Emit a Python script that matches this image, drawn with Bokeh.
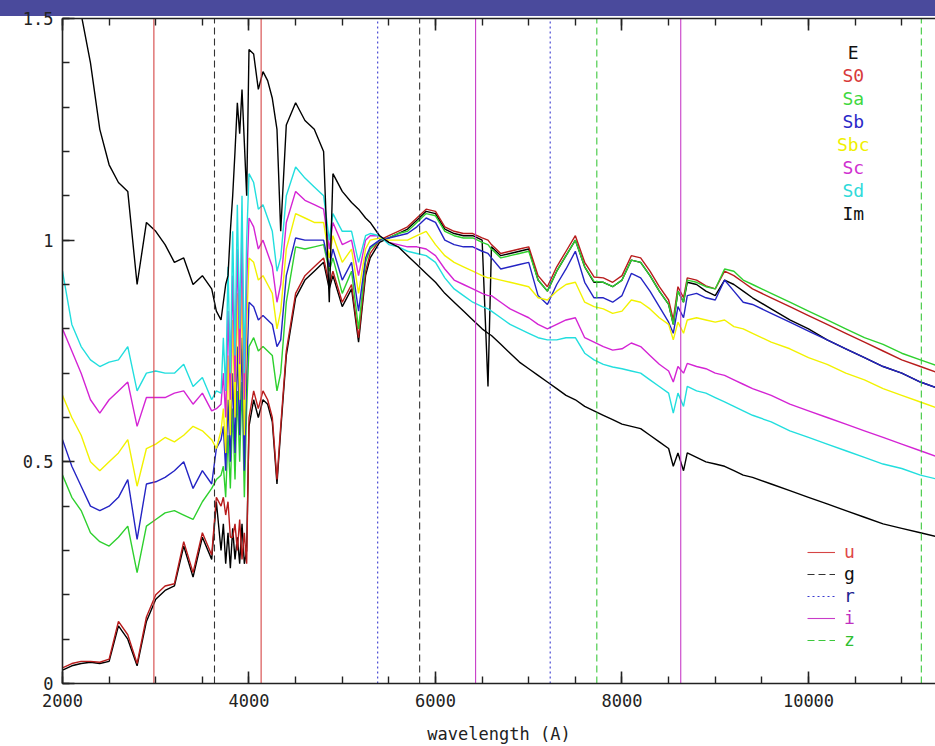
from bokeh.plotting import figure
from bokeh.models import (ColumnDataSource, LinearAxis, SingleIntervalTicker, Div,
                          CustomJSTickFormatter, Legend, LegendItem, Label, Range1d)
from bokeh.layouts import column
from bokeh.embed import file_html
from bokeh.resources import INLINE

# wavelength grid in Angstrom (denser through the 4000 A break)
wavelength = [
    2000, 2100, 2200, 2300, 2400, 2500, 2600, 2700, 2800, 2900, 3000, 3100, 3200, 3300, 3400, 3500, 3600,
    3650, 3700, 3725, 3750, 3775, 3800, 3825, 3850, 3875, 3900, 3925, 3950, 3975, 4000, 4050, 4100,
    4150, 4200, 4250, 4300, 4340, 4400,
    4500, 4600, 4700, 4800, 4861, 4900, 5000, 5100, 5175, 5250, 5300, 5400, 5500,
    5600, 5700, 5800, 5900, 6000, 6100, 6200, 6300, 6400, 6500, 6563, 6600, 6700, 6800, 6900, 7000,
    7100, 7200, 7300, 7400, 7500, 7600, 7700, 7800, 7900, 8000, 8100, 8200, 8300, 8400, 8500, 8550,
    8600, 8660, 8700, 8800, 8900, 9000, 9100, 9200, 9300,
    9400, 9600, 9800, 10000, 10200, 10400, 10600, 10800, 11000, 11200, 11400,
]

flux_E = [
    0.03, 0.04, 0.045, 0.048, 0.045, 0.05, 0.13, 0.10, 0.04, 0.14, 0.19, 0.21, 0.22, 0.31, 0.24, 0.33, 0.28,
    0.41, 0.30, 0.36, 0.27, 0.34, 0.26, 0.35, 0.28, 0.33, 0.27, 0.36, 0.27, 0.30, 0.58, 0.64, 0.60,
    0.64, 0.63, 0.59, 0.45, 0.57, 0.74,
    0.87, 0.91, 0.93, 0.95, 0.89, 0.92, 0.85, 0.89, 0.77, 0.92, 0.96, 0.995, 1.005,
    1.015, 1.025, 1.045, 1.065, 1.06, 1.025, 1.015, 1.01, 1.01, 1.0, 0.67, 0.985, 0.965, 0.97, 0.975, 0.98,
    0.91, 0.885, 0.93, 0.965, 1.0, 0.94, 0.905, 0.905, 0.895, 0.91, 0.955, 0.95, 0.92, 0.885, 0.855, 0.81,
    0.885, 0.86, 0.905, 0.90, 0.885, 0.875, 0.91, 0.90, 0.885,
    0.87, 0.845, 0.82, 0.80, 0.775, 0.755, 0.735, 0.715, 0.70, 0.68, 0.665,
]

flux_S0 = [
    0.035, 0.045, 0.05, 0.05, 0.048, 0.055, 0.14, 0.11, 0.045, 0.15, 0.20, 0.22, 0.225, 0.32, 0.25, 0.34, 0.29,
    0.42, 0.40, 0.42, 0.38, 0.41, 0.33, 0.33, 0.36, 0.30, 0.37, 0.28, 0.34, 0.27, 0.60, 0.66, 0.62,
    0.66, 0.64, 0.60, 0.46, 0.58, 0.75,
    0.88, 0.92, 0.94, 0.96, 0.90, 0.93, 0.86, 0.90, 0.78, 0.93, 0.97, 1.00, 1.01,
    1.02, 1.03, 1.05, 1.07, 1.065, 1.03, 1.02, 1.015, 1.015, 1.005, 1.0, 0.99, 0.97, 0.975, 0.98, 0.985,
    0.92, 0.895, 0.94, 0.975, 1.01, 0.95, 0.917, 0.915, 0.905, 0.92, 0.965, 0.96, 0.93, 0.895, 0.865, 0.82,
    0.895, 0.87, 0.915, 0.91, 0.897, 0.89, 0.93, 0.92, 0.905,
    0.89, 0.87, 0.85, 0.83, 0.81, 0.79, 0.77, 0.75, 0.73, 0.715, 0.70,
]

flux_Sa = [
    0.47, 0.42, 0.39, 0.34, 0.32, 0.31, 0.33, 0.355, 0.25, 0.355, 0.37, 0.385, 0.39, 0.38, 0.37, 0.41, 0.44,
    0.46, 0.47, 0.49, 0.42, 0.56, 0.44, 0.62, 0.46, 0.66, 0.50, 0.68, 0.42, 0.62, 0.76, 0.78, 0.75,
    0.76, 0.75, 0.74, 0.66, 0.70, 0.86,
    0.985, 0.98, 0.985, 0.99, 0.93, 0.96, 0.88, 0.93, 0.80, 0.95, 0.98, 1.0, 1.005,
    1.015, 1.02, 1.04, 1.06, 1.055, 1.02, 1.01, 1.005, 1.005, 0.995, 0.99, 0.98, 0.96, 0.965, 0.97, 0.975,
    0.91, 0.885, 0.93, 0.965, 1.0, 0.94, 0.907, 0.905, 0.895, 0.91, 0.955, 0.95, 0.92, 0.885, 0.855, 0.81,
    0.885, 0.86, 0.91, 0.905, 0.895, 0.89, 0.935, 0.93, 0.91,
    0.90, 0.88, 0.86, 0.84, 0.82, 0.80, 0.78, 0.765, 0.745, 0.73, 0.715,
]

flux_Sb = [
    0.55, 0.49, 0.445, 0.40, 0.39, 0.40, 0.42, 0.46, 0.325, 0.45, 0.455, 0.465, 0.48, 0.50, 0.44, 0.48, 0.45,
    0.53, 0.55, 0.58, 0.48, 0.64, 0.50, 0.70, 0.52, 0.76, 0.56, 0.78, 0.48, 0.70, 0.86, 0.85, 0.82,
    0.83, 0.82, 0.81, 0.76, 0.775, 0.92,
    1.005, 1.0, 1.0, 1.0, 0.94, 0.98, 0.91, 0.95, 0.84, 0.96, 0.985, 1.0, 1.005,
    1.01, 1.015, 1.03, 1.05, 1.04, 1.0, 0.99, 0.985, 0.985, 0.975, 0.97, 0.96, 0.935, 0.94, 0.945, 0.95,
    0.875, 0.855, 0.90, 0.935, 0.975, 0.905, 0.87, 0.87, 0.86, 0.875, 0.925, 0.915, 0.885, 0.85, 0.815, 0.79,
    0.85, 0.825, 0.875, 0.88, 0.87, 0.865, 0.91, 0.885, 0.86,
    0.855, 0.835, 0.815, 0.795, 0.775, 0.755, 0.735, 0.715, 0.70, 0.68, 0.665,
]

flux_Sbc = [
    0.65, 0.60, 0.56, 0.50, 0.48, 0.50, 0.52, 0.55, 0.445, 0.53, 0.54, 0.555, 0.545, 0.56, 0.58, 0.57, 0.55,
    0.53, 0.57, 0.62, 0.52, 0.74, 0.56, 0.82, 0.60, 0.88, 0.64, 0.90, 0.56, 0.80, 0.96, 0.95, 0.91,
    0.92, 0.90, 0.88, 0.80, 0.84, 0.98,
    1.06, 1.05, 1.04, 1.04, 0.96, 1.01, 0.95, 0.98, 0.88, 0.98, 1.0, 1.005, 1.0,
    1.0, 1.0, 1.01, 1.02, 0.99, 0.965, 0.95, 0.94, 0.93, 0.92, 0.915, 0.915, 0.91, 0.905, 0.90, 0.895,
    0.87, 0.865, 0.885, 0.90, 0.905, 0.86, 0.85, 0.845, 0.835, 0.84, 0.865, 0.86, 0.845, 0.825, 0.81, 0.775,
    0.815, 0.79, 0.82, 0.825, 0.82, 0.815, 0.82, 0.805, 0.80,
    0.79, 0.77, 0.755, 0.735, 0.72, 0.70, 0.685, 0.665, 0.65, 0.635, 0.62,
]

flux_Sc = [
    0.80, 0.75, 0.70, 0.64, 0.61, 0.64, 0.66, 0.68, 0.58, 0.645, 0.645, 0.645, 0.655, 0.66, 0.63, 0.655, 0.615,
    0.62, 0.63, 0.70, 0.60, 0.84, 0.64, 0.92, 0.68, 0.98, 0.72, 1.00, 0.64, 0.90, 1.05, 1.03, 0.98,
    1.0, 0.97, 0.94, 0.86, 0.90, 1.04,
    1.11, 1.09, 1.08, 1.07, 0.98, 1.04, 0.99, 1.0, 0.92, 1.0, 1.01, 1.01, 0.995,
    0.99, 0.985, 0.985, 0.98, 0.965, 0.935, 0.91, 0.90, 0.89, 0.88, 0.875, 0.875, 0.86, 0.845, 0.835, 0.825,
    0.81, 0.80, 0.81, 0.82, 0.825, 0.78, 0.77, 0.76, 0.752, 0.755, 0.768, 0.76, 0.74, 0.72, 0.705, 0.68,
    0.715, 0.70, 0.722, 0.715, 0.71, 0.70, 0.695, 0.685, 0.675,
    0.665, 0.65, 0.63, 0.615, 0.60, 0.585, 0.57, 0.555, 0.54, 0.525, 0.51,
]

flux_Sd = [
    0.93, 0.81, 0.76, 0.73, 0.715, 0.725, 0.73, 0.76, 0.66, 0.70, 0.705, 0.70, 0.70, 0.72, 0.67, 0.69, 0.64,
    0.66, 0.655, 0.78, 0.66, 0.94, 0.70, 1.02, 0.74, 1.08, 0.80, 1.10, 0.70, 1.0, 1.15, 1.13, 1.07,
    1.08, 1.05, 1.02, 0.93, 0.96, 1.10,
    1.165, 1.14, 1.12, 1.10, 1.0, 1.06, 1.02, 1.02, 0.95, 1.01, 1.015, 1.01, 0.99,
    0.985, 0.975, 0.97, 0.965, 0.95, 0.915, 0.89, 0.875, 0.86, 0.85, 0.845, 0.84, 0.825, 0.81, 0.80, 0.79,
    0.78, 0.775, 0.775, 0.78, 0.78, 0.745, 0.73, 0.72, 0.714, 0.71, 0.705, 0.70, 0.685, 0.67, 0.655, 0.61,
    0.655, 0.625, 0.67, 0.66, 0.655, 0.645, 0.635, 0.625, 0.615,
    0.605, 0.59, 0.57, 0.555, 0.54, 0.525, 0.51, 0.495, 0.485, 0.47, 0.46,
]

flux_Im = [
    1.62, 1.57, 1.51, 1.40, 1.25, 1.17, 1.13, 1.11, 0.90, 1.04, 1.02, 0.99, 0.95, 0.96, 0.90, 0.92, 0.89,
    0.84, 0.82, 0.86, 0.90, 0.92, 1.02, 1.10, 1.20, 1.31, 1.24, 1.34, 1.22, 1.10, 1.43, 1.42, 1.34,
    1.38, 1.36, 1.32, 1.25, 1.02, 1.26,
    1.31, 1.27, 1.25, 1.20, 0.86, 1.15, 1.11, 1.085, 1.07, 1.05, 1.04, 1.01, 0.995,
    0.985, 0.965, 0.945, 0.925, 0.905, 0.88, 0.86, 0.84, 0.82, 0.80, 0.79, 0.785, 0.765, 0.745, 0.725, 0.71,
    0.695, 0.68, 0.665, 0.65, 0.64, 0.625, 0.615, 0.605, 0.595, 0.585, 0.58, 0.575, 0.56, 0.545, 0.53, 0.49,
    0.52, 0.48, 0.52, 0.51, 0.50, 0.495, 0.49, 0.48, 0.47,
    0.465, 0.45, 0.435, 0.42, 0.405, 0.39, 0.375, 0.36, 0.35, 0.34, 0.33,
]

galaxy_types = ["E", "S0", "Sa", "Sb", "Sbc", "Sc", "Sd", "Im"]
galaxy_flux = [flux_E, flux_S0, flux_Sa, flux_Sb, flux_Sbc, flux_Sc, flux_Sd, flux_Im]
galaxy_colors = ["#000000", "#b81c1c", "#2ed02e", "#2424c4", "#f2f200", "#d424d4", "#22dede", "#000000"]
galaxy_label_colors = ["#111111", "#d83a3a", "#3fd83f", "#2a2ac8", "#f0f000", "#d030d0", "#30dada", "#111111"]

# SDSS filter band edges (A)
filter_names = ["u", "g", "r", "i", "z"]
filter_edges = [[2980, 4130], [3630, 5830], [5380, 7230], [6430, 8630], [7730, 11210]]
filter_colors = ["#d64545", "#333333", "#3a3ad0", "#c83cc8", "#3cc83c"]
filter_label_colors = ["#e04848", "#111111", "#202090", "#c030c0", "#30c030"]
filter_dashes = ["solid", "7 4", "2 3", "solid", "7 4"]

FONT = "DejaVu Sans Mono"
X_MIN, X_MAX = 2000, 11362
Y_MIN, Y_MAX = 0.0, 1.5
BANNER_H = 16

# the figure overlaps the header band; its borders are transparent so the band shows through
p = figure(width=935, height=746, x_range=Range1d(X_MIN, X_MAX), y_range=Range1d(Y_MIN, Y_MAX),
           output_backend="svg", toolbar_location=None,
           min_border_left=62, min_border_right=0, min_border_top=18, min_border_bottom=62,
           margin=(-BANNER_H, 0, 0, 0))
p.grid.visible = False
p.outline_line_color = None
p.background_fill_color = "white"
p.border_fill_alpha = 0.0

x_ticker = SingleIntervalTicker(interval=2000, num_minor_ticks=4)
y_ticker = SingleIntervalTicker(interval=0.5, num_minor_ticks=5)

bottom_axis = p.below[0]
left_axis = p.left[0]
bottom_axis.ticker = x_ticker
left_axis.ticker = y_ticker
left_axis.formatter = CustomJSTickFormatter(code="return String(tick)")

top_axis = LinearAxis(ticker=x_ticker, major_label_text_font_size="0px", major_label_standoff=0,
                      major_label_text_alpha=0)
p.add_layout(top_axis, "above")

for ax in [bottom_axis, left_axis, top_axis]:
    ax.axis_line_color = "#222222"
    ax.axis_line_width = 1.6
    ax.major_tick_line_color = "#222222"
    ax.minor_tick_line_color = "#222222"
    ax.major_tick_line_width = 1.6
    ax.minor_tick_line_width = 1.4
    ax.major_tick_in = 12
    ax.major_tick_out = 0
    ax.minor_tick_in = 7
    ax.minor_tick_out = 0

for ax in [bottom_axis, left_axis]:
    ax.major_label_text_font = FONT
    ax.major_label_text_font_size = "17px"
    ax.major_label_text_color = "#222222"
bottom_axis.major_label_standoff = 10
left_axis.major_label_standoff = 9

bottom_axis.axis_label = "wavelength (A)"
bottom_axis.axis_label_text_font = FONT
bottom_axis.axis_label_text_font_size = "17px"
bottom_axis.axis_label_text_font_style = "normal"
bottom_axis.axis_label_text_color = "#222222"
bottom_axis.axis_label_standoff = 14

# template spectra
for name, flux, color in zip(galaxy_types, galaxy_flux, galaxy_colors):
    src = ColumnDataSource(dict(wl=wavelength, f=flux))
    p.line("wl", "f", source=src, line_color=color, line_width=1.4)

# filter band edges as vertical lines over the full y range
filter_renderers = []
for name, edges, color, dash in zip(filter_names, filter_edges, filter_colors, filter_dashes):
    src = ColumnDataSource(dict(x=edges, y0=[Y_MIN] * len(edges), y1=[Y_MAX] * len(edges)))
    r = p.segment(x0="x", y0="y0", x1="x", y1="y1", source=src,
                  line_color=color, line_width=1.1, line_dash=dash)
    filter_renderers.append(r)

# galaxy type key, stacked in the upper right
for k, (name, color) in enumerate(zip(galaxy_types, galaxy_label_colors)):
    p.add_layout(Label(x=10480, y=1.423 - 0.0518 * k, text=name, text_align="center",
                       text_baseline="middle", text_color=color, text_font=FONT,
                       text_font_size="18px"))

# filter key, one small legend per band so each label keeps its own colour
for k, (name, r, lcolor) in enumerate(zip(filter_names, filter_renderers, filter_label_colors)):
    leg = Legend(items=[LegendItem(label=name, renderers=[r])], location=(745, 121 - 22 * k),
                 glyph_width=28, glyph_height=18, label_height=18, label_standoff=9,
                 padding=0, margin=0, spacing=0, border_line_alpha=0, background_fill_alpha=0,
                 label_text_font=FONT, label_text_font_size="18px", label_text_color=lcolor)
    p.add_layout(leg)

banner = Div(text="", width=935, height=BANNER_H, margin=(0, 0, 0, 0),
             styles={"background-color": "#4a4a9c"})

layout = column(banner, p, spacing=0)
open("out.html", "w").write(file_html(layout, INLINE, title="Galaxy template spectra"))
